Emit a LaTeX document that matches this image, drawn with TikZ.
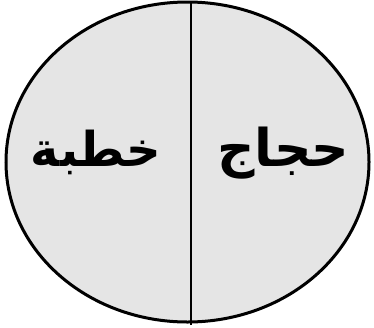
\documentclass[tikz,border=0pt]{standalone}
\usepackage{fontspec}
\usetikzlibrary{shapes.geometric}
\newfontfamily\arabicfont[Script=Arabic]{DejaVu Sans}
\TeXXeTstate=1
\begin{document}
\begin{tikzpicture}[x=1pt,y=-1pt,
  word/.style={font=\arabicfont\bfseries, inner sep=0pt, anchor=base}]
\useasboundingbox (0,0) rectangle (374,327);
\fill[white] (0,0) rectangle (374,327);
\node[ellipse, draw=black, line width=3pt, fill=black!10, minimum width=363pt, minimum height=320pt, inner sep=0pt] (oval) at (187.5,162) {};
\coordinate (top) at (191,3);
\coordinate (bot) at (191,325);
\draw[line width=2pt] (top) -- (bot);
\node[word, font=\arabicfont\bfseries\fontsize{48}{52}\selectfont] (left) at (96,166) {\beginR خطبة\endR};
\node[word, font=\arabicfont\bfseries\fontsize{52}{56}\selectfont] (right) at (283,166) {\beginR حجاج\endR};
\end{tikzpicture}
\end{document}
